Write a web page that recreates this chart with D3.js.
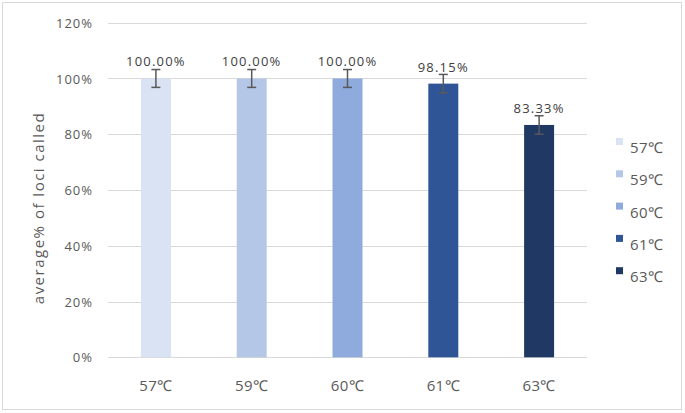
<!DOCTYPE html>
<html>
<head>
<meta charset="utf-8">
<script src="https://cdn.jsdelivr.net/npm/d3@7"></script>
<style>
  body { margin: 0; background: #fff; }
  svg text { font-family: "Open Sans", sans-serif; }
</style>
</head>
<body>
<svg width="685" height="413"></svg>
<script>
// DATA
var temps = ["57℃", "59℃", "60℃", "61℃", "63℃"];
var called = [1.0, 1.0, 1.0, 0.9815, 0.8333];
var errs = [0.032, 0.032, 0.032, 0.033, 0.033];
var colors = ["#DAE3F3", "#B4C7E7", "#8FAADC", "#2F5597", "#203864"];
var yTicks = [0, 0.2, 0.4, 0.6, 0.8, 1.0, 1.2];

var svg = d3.select("svg");

// frame
svg.append("rect")
    .attr("x", 2.5).attr("y", 2.5)
    .attr("width", 679).attr("height", 407)
    .attr("fill", "#fff")
    .attr("stroke", "#D9D9D9");

var x = d3.scaleBand()
    .domain(temps)
    .range([108, 587])
    .paddingInner(0.687)
    .paddingOuter(0.3435);

var y = d3.scaleLinear()
    .domain([0, 1.2])
    .range([357.3, 22.7]);

var color = d3.scaleOrdinal().domain(temps).range(colors);

// GRIDLINES
svg.append("g")
    .selectAll("line")
    .data(yTicks)
    .enter().append("line")
    .attr("x1", 108).attr("x2", 587)
    .attr("y1", function(d) { return Math.round(y(d)) + 0.5; })
    .attr("y2", function(d) { return Math.round(y(d)) + 0.5; })
    .attr("stroke", "#D9D9D9")
    .attr("stroke-width", 1);

// Y AXIS
var yAxis = svg.append("g")
    .attr("transform", "translate(93,0)")
    .call(d3.axisLeft(y).tickValues(yTicks).tickSize(0).tickPadding(0)
          .tickFormat(d3.format(".0%")));
yAxis.select(".domain").remove();
yAxis.selectAll("text")
    .attr("fill", "#595959")
    .style("font-size", "13px")
    .style("letter-spacing", "1px")
    .attr("dy", "0.35em");

// X AXIS
var xAxis = svg.append("g")
    .attr("transform", "translate(0,357)")
    .call(d3.axisBottom(x).tickSize(0).tickPadding(0));
xAxis.select(".domain").remove();
xAxis.selectAll("text")
    .attr("fill", "#595959")
    .attr("y", 34)
    .attr("dy", 0)
    .style("font-size", "15px")
    .style("letter-spacing", "0.4px");

// BARS
svg.append("g").selectAll(".bar")
    .data(temps)
    .enter().append("rect")
    .attr("class", "bar")
    .attr("x", function(d) { return x(d); })
    .attr("width", x.bandwidth())
    .attr("y", function(d, i) { return y(called[i]); })
    .attr("height", function(d, i) { return y(0) - y(called[i]); })
    .attr("fill", function(d) { return color(d); });

// ERROR BARS
var eb = svg.append("g").selectAll(".err")
    .data(temps)
    .enter().append("g")
    .attr("class", "err")
    .attr("stroke", "#595959")
    .attr("stroke-width", 1.5);
eb.append("line")
    .attr("x1", function(d) { return x(d) + x.bandwidth() / 2; })
    .attr("x2", function(d) { return x(d) + x.bandwidth() / 2; })
    .attr("y1", function(d, i) { return y(called[i] + errs[i]); })
    .attr("y2", function(d, i) { return y(called[i] - errs[i]); });
[1, -1].forEach(function(s) {
  eb.append("line")
      .attr("x1", function(d) { return x(d) + x.bandwidth() / 2 - 4.5; })
      .attr("x2", function(d) { return x(d) + x.bandwidth() / 2 + 4.5; })
      .attr("y1", function(d, i) { return y(called[i] + s * errs[i]); })
      .attr("y2", function(d, i) { return y(called[i] + s * errs[i]); });
});

// DATA LABELS
svg.append("g").selectAll(".label")
    .data(temps)
    .enter().append("text")
    .attr("class", "label")
    .attr("x", function(d) { return x(d) + x.bandwidth() / 2; })
    .attr("y", function(d, i) { return y(called[i]) - 12; })
    .attr("text-anchor", "middle")
    .attr("fill", "#404040")
    .style("font-size", "13px")
    .style("letter-spacing", "1.2px")
    .text(function(d, i) { return d3.format(".2%")(called[i]); });

// Y TITLE
svg.append("text")
    .attr("transform", "translate(43.5,208) rotate(-90)")
    .attr("text-anchor", "middle")
    .attr("fill", "#595959")
    .style("font-size", "15px")
    .style("letter-spacing", "1.5px")
    .text("average% of loci called");

// LEGEND
var legend = svg.append("g").selectAll(".legend")
    .data(temps)
    .enter().append("g")
    .attr("class", "legend")
    .attr("transform", function(d, i) { return "translate(616," + (138 + i * 32.3) + ")"; });
legend.append("rect")
    .attr("width", 7).attr("height", 7)
    .attr("fill", function(d) { return color(d); });
legend.append("text")
    .attr("x", 14).attr("y", 15)
    .attr("fill", "#595959")
    .style("font-size", "15px")
    .style("letter-spacing", "0.4px")
    .text(function(d) { return d; });
</script>
</body>
</html>
